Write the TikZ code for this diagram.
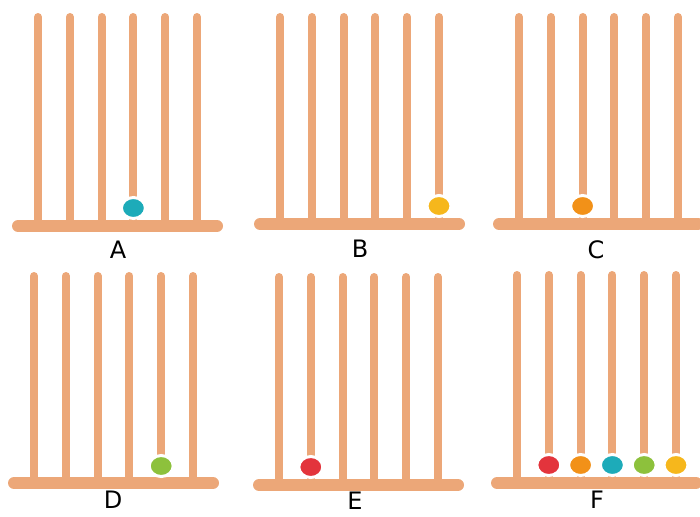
\documentclass[tikz,border=0pt]{standalone}
\usepackage{fontspec}
\setmainfont{DejaVu Sans}
\definecolor{rodc}{HTML}{ECA778}
\definecolor{teal}{HTML}{1DABB9}
\definecolor{yel}{HTML}{F6B71C}
\definecolor{ora}{HTML}{F29118}
\definecolor{gre}{HTML}{8DC13C}
\definecolor{red}{HTML}{E3343C}
\begin{document}
\begin{tikzpicture}[x=1pt,y=-1pt,line cap=round,font=\fontsize{24}{24}\selectfont,
	rod/.style={rodc,line width=8pt},
	bar/.style={rodc,line width=12pt},
	bead/.style={fill=#1,draw=white,line width=3pt}]
	\useasboundingbox (0,0) rectangle (700,516);
	% six abacus frames: name / first rod x / rod top / bar y / label x / label y
	\foreach \name/\xo/\yt/\yb/\lx/\ly in {A/38/17/226/118/250, B/280/17/224/360/249, C/519/17/224/596/250,
		D/34/276/483/113/500, E/279/277/485/355/501, F/517/275/483/597/500} {
		\foreach \i in {0,...,5}
			\draw[rod] (\xo+\i*31.8,\yt) -- (\xo+\i*31.8,\yb);
		\draw[bar] (\xo-20,\yb) -- (\xo+179,\yb);
		\node[inner sep=0pt] (lab\name) at (\lx,\ly) {\name};
	}
	% beads
	\foreach \bx/\by/\col in {133.4/208/teal, 439/206/yel, 582.6/206/ora, 161.2/466/gre, 310.8/467/red,
		548.8/465/red, 580.6/465/ora, 612.4/465/teal, 644.2/465/gre, 676/465/yel}
		\filldraw[bead=\col] (\bx,\by) ellipse[x radius=12,y radius=10.5];
\end{tikzpicture}
\end{document}
